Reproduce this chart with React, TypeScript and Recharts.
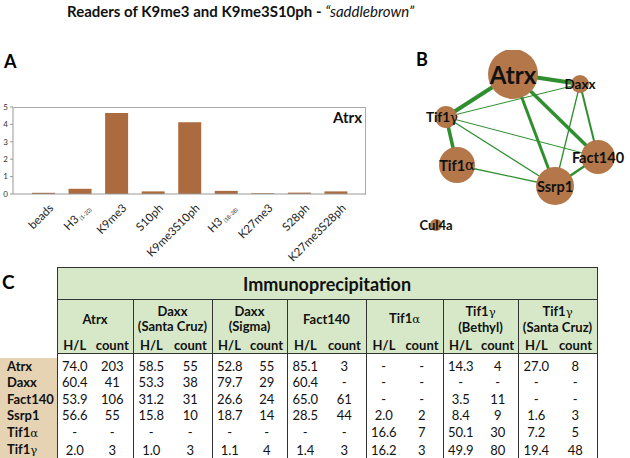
import React from "react";
import { BarChart, Bar, XAxis, YAxis, ScatterChart, Scatter } from "recharts";

const FONT = "Lato, 'Open Sans', sans-serif";

// ---------- Panel A data ----------
const categories = ["beads", "H3|(1-20)", "K9me3", "S10ph", "K9me3S10ph", "H3|(18-38)", "K27me3", "S28ph", "K27me3S28ph"];
const atrxValues = [0.07, 0.3, 4.65, 0.15, 4.12, 0.18, 0.05, 0.08, 0.15];
const yTicks = [0, 1, 2, 3, 4, 5];

// ---------- Panel B data (chart-local units) ----------
const nodeNames = ["Atrx", "Daxx", "Tif1γ", "Tif1α", "Fact140", "Ssrp1", "Cul4a"];
const nodeX = [143, 210, 76, 87, 228, 185, 66];
const nodeY = [24, 34, 67, 115, 107, 136, 175];
const nodeR = [25, 9, 11, 18, 17, 19, 6];
const nodeLabelSize = [24, 13.5, 13.5, 14.5, 14.5, 14.5, 13];

const edgeFrom = ["Atrx", "Atrx", "Atrx", "Atrx", "Tif1γ", "Tif1γ", "Tif1γ", "Tif1γ", "Tif1α", "Daxx", "Daxx", "Fact140"];
const edgeTo = ["Daxx", "Tif1γ", "Ssrp1", "Fact140", "Tif1α", "Daxx", "Fact140", "Ssrp1", "Ssrp1", "Ssrp1", "Fact140", "Ssrp1"];
const edgeWeight = [4, 4, 3, 3.5, 3.5, 1, 1, 1.3, 1.3, 1.3, 2, 2.5];

// ---------- Panel C data ----------
const groupNames = [["Atrx"], ["Daxx", "(Santa Cruz)"], ["Daxx", "(Sigma)"], ["Fact140"], ["Tif1α"], ["Tif1γ", "(Bethyl)"], ["Tif1γ", "(Santa Cruz)"]];
const rowLabels = ["Atrx", "Daxx", "Fact140", "Ssrp1", "Tif1α", "Tif1γ"];
const rowAtrx = ["74.0", "203", "58.5", "55", "52.8", "55", "85.1", "3", "-", "-", "14.3", "4", "27.0", "8"];
const rowDaxx = ["60.4", "41", "53.3", "38", "79.7", "29", "60.4", "-", "-", "-", "-", "-", "-", "-"];
const rowFact140 = ["53.9", "106", "31.2", "31", "26.6", "24", "65.0", "61", "-", "-", "3.5", "11", "-", "-"];
const rowSsrp1 = ["56.6", "55", "15.8", "10", "18.7", "14", "28.5", "44", "2.0", "2", "8.4", "9", "1.6", "3"];
const rowTif1a = ["-", "-", "-", "-", "-", "-", "-", "-", "16.6", "7", "50.1", "30", "7.2", "5"];
const rowTif1g = ["2.0", "3", "1.0", "3", "1.1", "4", "1.4", "3", "16.2", "3", "49.9", "80", "19.4", "48"];
const tableRows = [rowAtrx, rowDaxx, rowFact140, rowSsrp1, rowTif1a, rowTif1g];

const BAR_COLOR = "#ab6b3e";
const NODE_COLOR = "#b3774a";
const EDGE_COLOR = "#2f8f2f";
const GREEN = "#d7e8c8";
const TAN = "#e5d3b3";
const BORDER = "1.5px solid #333";

const barData = categories.map((c, i) => ({ cat: c, value: atrxValues[i] }));
const nodes = nodeNames.map((n, i) => ({ name: n, x: nodeX[i], y: nodeY[i], r: nodeR[i], fs: nodeLabelSize[i] }));
const nodeByName = (n: string) => nodes.find((d) => d.name === n)!;

function greek(s: string) {
  const last = s.slice(-1);
  if (last === "α" || last === "γ") {
    return (
      <>
        {s.slice(0, -1)}
        <span style={{ fontWeight: 400, fontFamily: "'DejaVu Serif', serif", fontSize: "0.9em" }}>{last}</span>
      </>
    );
  }
  return s;
}

function CatTick(props: any) {
  const { x, y, payload } = props;
  const [main, sub] = String(payload.value).split("|");
  return (
    <g transform={`translate(${x + 8},${y + 4})`}>
      <text transform="rotate(-45)" textAnchor="end" fontSize={11.5} fill="#222" fontFamily={FONT} dy={4}>
        {main}
        {sub && (
          <tspan fontSize={5.5} dy={2}>
            {" " + sub}
          </tspan>
        )}
      </text>
    </g>
  );
}

function NodeShape(props: any) {
  const { cx, cy, payload } = props;
  const isGreek = payload.name.endsWith("γ") || payload.name.endsWith("α");
  const dx = payload.name === "Tif1γ" ? -4 : 0;
  return (
    <g>
      <circle cx={cx} cy={cy} r={payload.r} fill={NODE_COLOR} />
      <text x={cx + dx} y={cy} textAnchor="middle" dominantBaseline="central" fontFamily={FONT} fontWeight={700} fontSize={payload.fs} fill="#111">
        {isGreek ? payload.name.slice(0, -1) : payload.name}
        {isGreek && (
          <tspan fontWeight={400} fontFamily="'DejaVu Serif', serif">
            {payload.name.slice(-1)}
          </tspan>
        )}
      </text>
    </g>
  );
}

const groupWidths = [76, 79, 75, 79, 77, 75, 79];

export default function App() {
  return (
    <div style={{ position: "relative", width: 630, height: 458, background: "#fff", overflow: "hidden", fontFamily: FONT }}>
      <style>{"body{margin:0}"}</style>
      {/* Title */}
      <div style={{ position: "absolute", left: 67, top: 2, fontSize: 15, lineHeight: "18px", color: "#111", whiteSpace: "nowrap" }}>
        <span style={{ fontWeight: 700 }}>Readers of K9me3 and K9me3S10ph - </span>
        <span style={{ fontStyle: "italic" }}>“saddlebrown”</span>
      </div>
      {/* Panel letters */}
      <div style={{ position: "absolute", left: 4, top: 50, fontSize: 18, fontWeight: 700 }}>A</div>
      <div style={{ position: "absolute", left: 416, top: 48, fontSize: 18, fontWeight: 700 }}>B</div>

      {/* Panel A */}
      <div style={{ position: "absolute", left: 0, top: 100 }}>
        <BarChart width={370} height={172} data={barData} margin={{ top: 7, right: 5, bottom: 12, left: 0 }} barSize={23}>
          <XAxis dataKey="cat" interval={0} tick={<CatTick />} tickLine={false} axisLine={{ stroke: "#999" }} height={66} padding={{ left: 12, right: 11 }} />
          <YAxis domain={[0, 5]} ticks={yTicks} width={13} tickSize={3} tick={{ fontSize: 8, fill: "#333", fontFamily: FONT }} axisLine={{ stroke: "#999" }} tickLine={{ stroke: "#999" }} />
          <Bar dataKey="value" fill={BAR_COLOR} isAnimationActive={false} />
        </BarChart>
      </div>
      {/* plot frame (top & right edges) */}
      <div style={{ position: "absolute", left: 13, top: 107, width: 352, height: 87, borderTop: "1px solid #aaa", borderRight: "1px solid #aaa", pointerEvents: "none" }} />
      <div style={{ position: "absolute", left: 333, top: 108, fontSize: 15, fontWeight: 700, color: "#111" }}>Atrx</div>

      {/* Panel B */}
      <div style={{ position: "absolute", left: 370, top: 50 }}>
        <ScatterChart width={260} height={210} margin={{ top: 0, right: 0, bottom: 0, left: 0 }}>
          <XAxis type="number" dataKey="x" domain={[0, 260]} hide />
          <YAxis type="number" dataKey="y" domain={[0, 210]} reversed hide />
          {edgeFrom.map((f, i) => {
            const a = nodeByName(f);
            const b = nodeByName(edgeTo[i]);
            return (
              <Scatter
                key={"e" + i}
                data={[{ x: a.x, y: a.y }, { x: b.x, y: b.y }]}
                line={{ stroke: EDGE_COLOR, strokeWidth: edgeWeight[i] }}
                stroke={EDGE_COLOR}
                shape={() => <g />}
                isAnimationActive={false}
              />
            );
          })}
          <Scatter data={nodes} shape={<NodeShape />} isAnimationActive={false} />
        </ScatterChart>
      </div>

      <div style={{ position: "absolute", left: 2, top: 270, fontSize: 19, fontWeight: 700 }}>C</div>

      {/* Panel C */}
      <table style={{ position: "absolute", left: 0, top: 267, borderCollapse: "collapse", tableLayout: "fixed", width: 597, fontSize: 13, color: "#111" }}>
        <colgroup>
          <col style={{ width: 57 }} />
          {groupWidths.map((w, i) => (
            <React.Fragment key={i}>
              <col style={{ width: Math.round(w * 0.46) }} />
              <col style={{ width: w - Math.round(w * 0.46) }} />
            </React.Fragment>
          ))}
        </colgroup>
        <tbody>
          <tr style={{ height: 32 }}>
            <td style={{ padding: 0 }} />
            <td colSpan={14} style={{ background: GREEN, border: BORDER, textAlign: "center", fontWeight: 700, fontSize: 18, padding: 0 }}>
              Immunoprecipitation
            </td>
          </tr>
          <tr style={{ height: 54 }}>
            <td style={{ padding: 0 }} />
            {groupNames.map((g, i) => (
              <td key={i} colSpan={2} style={{ background: GREEN, border: BORDER, padding: 0, fontWeight: 700, verticalAlign: "top" }}>
                <div style={{ height: 38, display: "flex", flexDirection: "column", justifyContent: "center", alignItems: "center", lineHeight: "15px" }}>
                  {g.map((line, j) => (
                    <div key={j}>{greek(line)}</div>
                  ))}
                </div>
                <div style={{ display: "flex", lineHeight: "14px" }}>
                  <div style={{ width: "46%", textAlign: "center" }}>H/L</div>
                  <div style={{ width: "54%", textAlign: "center" }}>count</div>
                </div>
              </td>
            ))}
          </tr>
          <tr style={{ height: 4 }}>
            <td style={{ padding: 0 }} />
            {groupWidths.map((_, i) => (
              <td key={i} colSpan={2} style={{ padding: 0, borderLeft: BORDER, borderRight: BORDER }} />
            ))}
          </tr>
          {tableRows.map((row, r) => (
            <tr key={r} style={{ height: 16.6 }}>
              <td style={{ background: TAN, fontWeight: 700, padding: "0 0 0 7px", lineHeight: "16.6px", borderRight: BORDER }}>{greek(rowLabels[r])}</td>
              {row.map((v, c) => (
                <td
                  key={c}
                  style={{
                    padding: 0,
                    textAlign: "center",
                    lineHeight: "16.6px",
                    borderLeft: c % 2 === 0 ? BORDER : undefined,
                    borderRight: c % 2 === 1 ? BORDER : undefined,
                  }}
                >
                  {v}
                </td>
              ))}
            </tr>
          ))}
        </tbody>
      </table>
    </div>
  );
}
